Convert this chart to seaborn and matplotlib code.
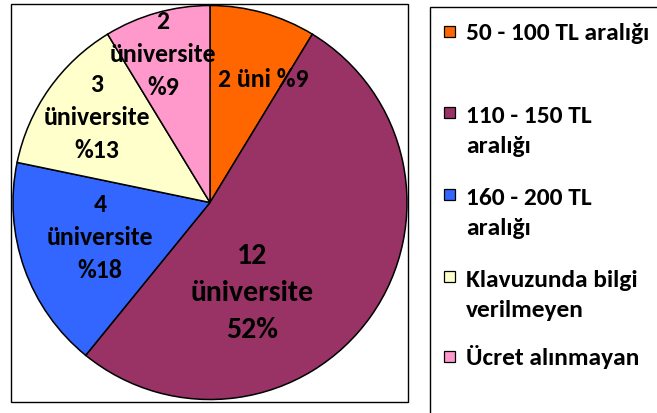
import numpy as np
import matplotlib
matplotlib.use('Agg')
import matplotlib.pyplot as plt
from matplotlib.patches import Rectangle
import seaborn as sns

# Veriler
categories = ['50 - 100 TL aralığı', '110 - 150 TL\naralığı', '160 - 200 TL\naralığı',
              'Klavuzunda bilgi\nverilmeyen', 'Ücret alınmayan']
counts = [2, 12, 4, 3, 2]
slice_labels = ['2 üni %9', '12\nüniversite\n52%', '4\nüniversite\n%18',
                '3\nüniversite\n%13', '2\nüniversite\n%9']
colors = ['#FF6600', '#993366', '#3366FF', '#FFFFCC', '#FF99CC']

sns.set_style('white')
plt.rcParams['font.family'] = ['Carlito', 'DejaVu Sans']
plt.rcParams['text.color'] = 'black'

W, H = 657, 414
fig = plt.figure(figsize=(W / 100, H / 100), dpi=100)

# pasta grafiği alanı (piksel -> figür oranı)
cx, cy, r = 210, 203.5, 197
ax = fig.add_axes([(cx - r) / W, (H - cy - r) / H, 2 * r / W, 2 * r / H])
wedges, _ = ax.pie(counts, colors=colors, startangle=90, counterclock=False,
                   wedgeprops=dict(edgecolor='black', linewidth=1.1))
ax.set_xlim(-1, 1)
ax.set_ylim(-1, 1)
ax.set_aspect('equal')
ax.axis('off')

# etiket yerleşimi: dilim ortasına göre yarıçap ve açı kayması
label_r = [0.682, 0.502, 0.585, 0.722, 0.791]
label_dang = [-7.5, -29.6, -2.2, -2.2, 1.9]
label_size = [18.5, 21.5, 18.5, 18.5, 18.5]
for w, lab, rr, da, fs in zip(wedges, slice_labels, label_r, label_dang, label_size):
    ang = np.deg2rad((w.theta1 + w.theta2) / 2 + da)
    ax.text(rr * np.cos(ang), rr * np.sin(ang), lab, ha='center', va='center',
            fontsize=fs, fontweight='bold', linespacing=1.53)

# çerçeveler
fig.patches.append(Rectangle((11 / W, (H - 403) / H), 397 / W, 398 / H,
                             transform=fig.transFigure, fill=False,
                             edgecolor='black', linewidth=1))
fig.patches.append(Rectangle((429.5 / W, -0.05), 240 / W, (H - 7.5) / H + 0.05,
                             transform=fig.transFigure, fill=False,
                             edgecolor='black', linewidth=1))

# lejant (son satırın taban çizgisine göre hizalama)
entry_y = [32, 113, 195, 277, 357]
pitch = 32
for cat, col, y in zip(categories, colors, entry_y):
    fig.patches.append(Rectangle((443.5 / W, (H - y - 5.5) / H), 11 / W, 11 / H,
                                 transform=fig.transFigure, facecolor=col,
                                 edgecolor='black', linewidth=0.9))
    base = y + 8 + (cat.count('\n')) * pitch
    fig.text(466 / W, (H - base) / H, cat, ha='left', va='baseline',
             fontsize=18.3, fontweight='bold', linespacing=1.52)

fig.savefig('out.png', dpi=100)
